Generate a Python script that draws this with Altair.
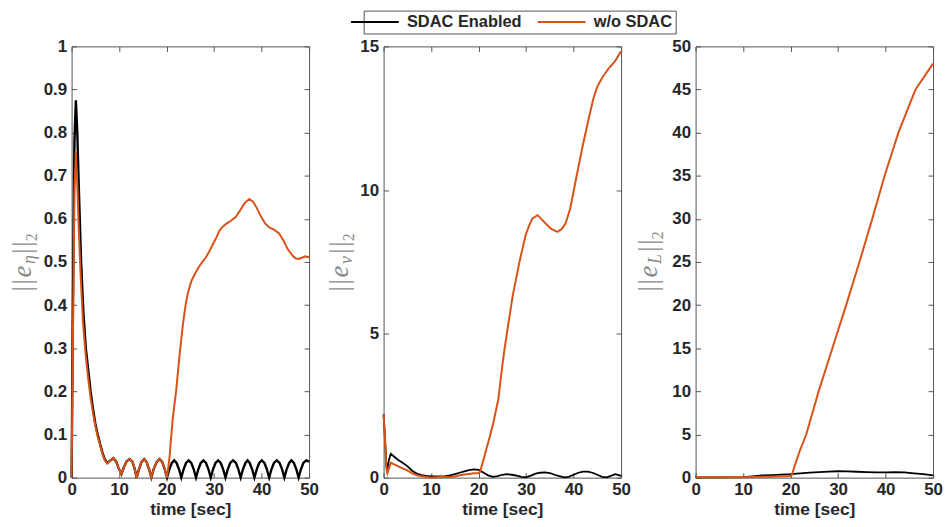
import altair as alt
import pandas as pd

# ---------------- data ----------------
SERIES = ["SDAC Enabled", "w/o SDAC"]
COLORS = ["#000000", "#D95319"]
X_TITLE = "time [sec]"
X_TICKS = [0, 10, 20, 30, 40, 50]
Y1_TICKS = [0, 0.1, 0.2, 0.3, 0.4, 0.5, 0.6, 0.7, 0.8, 0.9, 1]
Y2_TICKS = [0, 5, 10, 15]
Y3_TICKS = [0, 5, 10, 15, 20, 25, 30, 35, 40, 45, 50]
# y titles  ||e_eta||_2 , ||e_nu||_2 , ||e_L||_2  written piece by piece (bar, bar, e, subscript, bar, bar, 2)
Y_TITLE_1 = ["|", "|", "e", "η", "|", "|", "2"]
Y_TITLE_2 = ["|", "|", "e", "ν", "|", "|", "2"]
Y_TITLE_3 = ["|", "|", "e", "L", "|", "|", "2"]

# panel 1 : ||e_eta||_2
p1_sdac_t = [0, 0.3, 0.6, 0.9, 1.2, 1.5, 2.0, 2.5, 3.0, 3.5, 4.0, 4.5, 5.0, 5.5, 6.0, 6.5, 7.0, 7.5,
             8.2, 8.8, 9.4, 9.9, 10.5, 11.0, 11.6, 12.2, 12.8, 13.3, 13.7, 14.2, 14.7, 15.3, 15.8, 16.3, 16.8,
             17.3, 17.9, 18.5, 19.1, 19.6, 20.1,
             20.6, 21.1, 21.6, 22.1, 22.6, 23.1, 23.6, 24.1, 24.65, 25.2, 25.7, 26.2, 26.7, 27.2, 27.75, 28.3, 28.8,
             29.3, 29.8, 30.3, 30.85, 31.4, 31.9, 32.4, 32.9, 33.4, 34.0, 34.6, 35.1, 35.6, 36.1, 36.6, 37.05, 37.5,
             38.0, 38.5, 39.0, 39.5, 40.05, 40.6, 41.1, 41.6, 42.1, 42.6, 43.2, 43.8, 44.3, 44.8, 45.3, 45.8, 46.3,
             46.8, 47.3, 47.8, 48.3, 48.8, 49.4, 50.0]
p1_sdac_v = [0, 0.42, 0.78, 0.875, 0.8, 0.68, 0.5, 0.38, 0.3, 0.25, 0.2, 0.16, 0.125, 0.1, 0.078, 0.058, 0.042, 0.034,
             0.04, 0.045, 0.037, 0.022, 0.008, 0.024, 0.038, 0.043, 0.037, 0.02, 0.0, 0.02, 0.036, 0.043, 0.036, 0.02, 0.0,
             0.02, 0.036, 0.043, 0.036, 0.02, 0.0,
             0.02, 0.034, 0.04, 0.034, 0.02, 0.0, 0.02, 0.034, 0.04, 0.034, 0.02, 0.0, 0.02, 0.034, 0.04, 0.034, 0.02,
             0.0, 0.02, 0.034, 0.04, 0.034, 0.02, 0.0, 0.02, 0.034, 0.04, 0.034, 0.02, 0.0, 0.02, 0.034, 0.04, 0.034,
             0.02, 0.0, 0.02, 0.034, 0.04, 0.034, 0.02, 0.0, 0.02, 0.034, 0.04, 0.034, 0.02, 0.0, 0.02, 0.034, 0.04,
             0.034, 0.02, 0.0, 0.02, 0.034, 0.04, 0.037]
p1_wo_t = [0, 0.3, 0.6, 0.9, 1.2, 1.5, 1.9, 2.4, 3.0, 3.5, 4.0, 4.5, 5.0, 5.5, 6.0, 6.5, 7.0, 7.5,
           8.2, 8.8, 9.4, 9.9, 10.5, 11.0, 11.6, 12.2, 12.8, 13.3, 13.7, 14.2, 14.7, 15.3, 15.8, 16.3, 16.8,
           17.3, 17.9, 18.5, 19.1, 19.6, 20.1,
           20.6, 21.3, 22.0, 22.7, 23.4, 24.0, 24.5, 25.2, 25.9, 26.6, 27.3, 28.3, 29.0, 29.7, 30.4, 31.1, 31.8,
           32.6, 33.5, 34.6, 35.5, 36.4, 37.4, 38.2, 39.0, 39.8, 40.7, 41.6, 42.6, 43.7, 44.6, 45.5, 46.5, 47.2,
           47.8, 48.5, 49.2, 50.0]
p1_wo_v = [0, 0.35, 0.66, 0.755, 0.68, 0.58, 0.47, 0.36, 0.28, 0.23, 0.185, 0.15, 0.12, 0.095, 0.075, 0.055, 0.04, 0.033,
           0.04, 0.045, 0.037, 0.022, 0.008, 0.024, 0.038, 0.043, 0.037, 0.02, 0.0, 0.02, 0.036, 0.043, 0.036, 0.02, 0.0,
           0.02, 0.036, 0.043, 0.036, 0.02, 0.0,
           0.045, 0.138, 0.2, 0.28, 0.352, 0.4, 0.429, 0.455, 0.471, 0.485, 0.497, 0.511, 0.525, 0.54, 0.555, 0.572, 0.582,
           0.589, 0.595, 0.605, 0.62, 0.636, 0.646, 0.64, 0.625, 0.607, 0.59, 0.58, 0.575, 0.566, 0.55, 0.53, 0.515, 0.508,
           0.507, 0.51, 0.513, 0.511]

# panel 2 : ||e_nu||_2
p2_sdac_t = [0, 0.3, 0.6, 0.8, 1.1, 1.5, 2, 3, 4, 5, 6, 7, 8, 9, 10, 11, 12, 13, 14, 15, 16, 17, 18, 19, 20,
             21, 22, 23, 24, 25, 26, 27, 28, 29, 30, 31, 32, 33, 34, 35, 36, 37, 38, 39, 40, 41, 42, 43, 44, 45,
             46, 47, 48, 48.8, 49.5, 50]
p2_sdac_v = [2.2, 1.4, 0.4, 0.3, 0.6, 0.83, 0.76, 0.62, 0.52, 0.4, 0.24, 0.14, 0.09, 0.06, 0.04, 0.04, 0.04, 0.05,
             0.08, 0.12, 0.17, 0.22, 0.26, 0.29, 0.27, 0.18, 0.08, 0.03, 0.05, 0.1, 0.12, 0.1, 0.07, 0.03, 0.01,
             0.07, 0.14, 0.17, 0.18, 0.16, 0.1, 0.05, 0.01, 0.03, 0.1, 0.17, 0.21, 0.21, 0.17, 0.1, 0.03, 0.01,
             0.07, 0.12, 0.09, 0.06]
p2_wo_t = [0, 0.3, 0.6, 0.8, 1.1, 1.5, 2, 3, 4, 5, 6, 7, 8, 9, 10, 11, 12, 13, 14, 15, 16, 17, 18, 19, 20,
           20.3, 21, 21.7, 22.4, 23.1, 24.2, 24.7, 25.4, 26.1, 27.2, 28, 28.6, 29.3, 29.9, 30.6, 31.3, 32.4,
           33.2, 34.1, 35.3, 36.6, 37.5, 38.3, 39.3, 40.4, 41.8, 43.2, 44.2, 45, 46, 47.4, 48.7, 50]
p2_wo_v = [2.2, 1.3, 0.3, 0.15, 0.3, 0.52, 0.48, 0.4, 0.32, 0.25, 0.15, 0.08, 0.05, 0.02, 0.0, 0.01, 0.02, 0.02,
           0.02, 0.04, 0.08, 0.11, 0.13, 0.15, 0.15, 0.2, 0.6, 1.03, 1.45, 1.9, 2.76, 3.5, 4.4, 5.17, 6.34, 7.0,
           7.5, 8.0, 8.43, 8.75, 9.01, 9.13, 9.0, 8.84, 8.65, 8.55, 8.65, 8.84, 9.36, 10.29, 11.45, 12.5, 13.2,
           13.6, 13.9, 14.24, 14.48, 14.83]

# panel 3 : ||e_L||_2
p3_sdac_t = [0, 5, 10, 12, 14, 16, 18, 20, 22, 24, 26, 28, 30, 32, 34, 36, 38, 40, 42, 44, 46, 48, 50]
p3_sdac_v = [0.02, 0.02, 0.05, 0.15, 0.25, 0.3, 0.35, 0.4, 0.5, 0.58, 0.65, 0.7, 0.74, 0.72, 0.68, 0.64, 0.6,
             0.6, 0.65, 0.6, 0.5, 0.4, 0.27]
p3_wo_t = [0, 5, 10, 15, 20, 20.3, 21, 22, 23.3, 25.9, 28.8, 31.7, 34.5, 37.2, 39.8, 42.7, 46.3, 50]
p3_wo_v = [0.05, 0.05, 0.05, 0.1, 0.2, 0.35, 1.6, 3.2, 5, 10, 15, 20, 25, 30, 35, 40, 45, 48]

# ---------------- styling ----------------
W, H = 239, 434
FRAME = "#555555"
INK = "#262626"
TITLE_GRAY = "#8a8a8a"
FONT = "Liberation Sans"
SERIF = "Liberation Serif"
ONE = pd.DataFrame({"k": [0]})

LEGEND = alt.Legend(
    orient="none", legendX=294, legendY=-36, direction="horizontal",
    symbolType="M-4,0H4", symbolSize=144, symbolStrokeWidth=2,
    labelFont=FONT, labelFontSize=16.5, labelFontWeight="bold", labelColor=INK,
    labelOffset=24, columnPadding=11, padding=3,
    strokeColor=FRAME, fillColor="white", title=None,
)


def color_enc():
    return alt.Color("s:N", scale=alt.Scale(domain=SERIES, range=COLORS), legend=LEGEND, title=None)


def tick_axis(orient, values):
    return alt.Axis(orient=orient, offset=-5, values=values, ticks=True, tickSize=5, tickColor=FRAME,
                    tickWidth=1, labels=False, domain=False, grid=False, title=None)


def y_title(texts, ys, xs):
    # bar, bar, e, subscript, bar, bar, 2
    styles = [(27, "normal"), (27, "normal"), (27, "italic"), (18, "italic"),
              (27, "normal"), (27, "normal"), (16, "normal")]
    out = []
    for txt, yy, xx, (fs, st) in zip(texts, ys, xs, styles):
        out.append(
            alt.Chart(ONE).mark_text(text=txt, angle=270, align="left", baseline="alphabetic", font=SERIF,
                                     fontSize=fs, fontStyle=st, color=TITLE_GRAY)
            .encode(x=alt.value(xx), y=alt.value(yy))
        )
    return out


def panel(bt, bv, ot, ov, ydom, yticks, ttl, ttl_y, ttl_x, bw):
    xs = alt.Scale(domain=[0, 50], nice=False, zero=False)
    ys = alt.Scale(domain=ydom, nice=False, zero=False)
    db = pd.DataFrame({"t": bt, "v": bv, "s": SERIES[0]})
    do = pd.DataFrame({"t": ot, "v": ov, "s": SERIES[1]})
    x_lab = alt.Axis(orient="bottom", values=X_TICKS, title=X_TITLE, ticks=False, tickSize=0, domain=False,
                     grid=False, labelPadding=4, titlePadding=3, labelFlush=False, labelOverlap=False)
    y_lab = alt.Axis(orient="left", values=yticks, format="~g", title=None, ticks=False, tickSize=0,
                     domain=False, grid=False, labelPadding=5, labelOverlap=False)
    black = alt.Chart(db).mark_line(strokeWidth=bw).encode(
        x=alt.X("t:Q", scale=xs, axis=x_lab), y=alt.Y("v:Q", scale=ys, axis=y_lab), color=color_enc())
    orange = alt.Chart(do).mark_line(strokeWidth=2).encode(
        x=alt.X("t:Q", scale=xs, axis=tick_axis("bottom", X_TICKS)),
        y=alt.Y("v:Q", scale=ys, axis=tick_axis("left", yticks)), color=color_enc())
    ghost = alt.Chart(do).mark_line(opacity=0).encode(
        x=alt.X("t:Q", scale=xs, axis=tick_axis("top", X_TICKS)),
        y=alt.Y("v:Q", scale=ys, axis=tick_axis("right", yticks)))
    layers = [black, orange, ghost] + y_title(ttl, ttl_y, ttl_x)
    return alt.layer(*layers).resolve_axis(x="independent", y="independent").properties(width=W, height=H)


p1 = panel(p1_sdac_t, p1_sdac_v, p1_wo_t, p1_wo_v, [0, 1], Y1_TICKS, Y_TITLE_1,
           [246.7, 239.7, 232.5, 219, 208.7, 201.7, 196], [-41, -41, -41, -37, -41, -41, -35], 2.4)
p2 = panel(p2_sdac_t, p2_sdac_v, p2_wo_t, p2_wo_v, [0, 15], Y2_TICKS, Y_TITLE_2,
           [246.7, 239.7, 232.5, 219, 208.7, 201.7, 196], [-36, -36, -36, -32, -36, -36, -30], 1.8)
p3 = panel(p3_sdac_t, p3_sdac_v, p3_wo_t, p3_wo_v, [0, 50], Y3_TICKS, Y_TITLE_3,
           [246.7, 239.7, 232.5, 219, 206.7, 199.7, 194], [-39, -39, -39, -35, -39, -39, -33], 1.8)

chart = (
    alt.hconcat(p1, p2, p3, spacing=75, bounds="flush")
    .properties(padding={"left": 0, "top": 0, "right": 0, "bottom": 0})
    .configure_view(stroke=FRAME, strokeWidth=1)
    .configure_axis(labelFont=FONT, labelFontSize=17, labelFontWeight="bold", labelColor=INK,
                    titleFont=FONT, titleFontSize=17.5, titleFontWeight="bold", titleColor=INK)
)

chart.save("out.html", embed_options={"renderer": "svg", "actions": False})
